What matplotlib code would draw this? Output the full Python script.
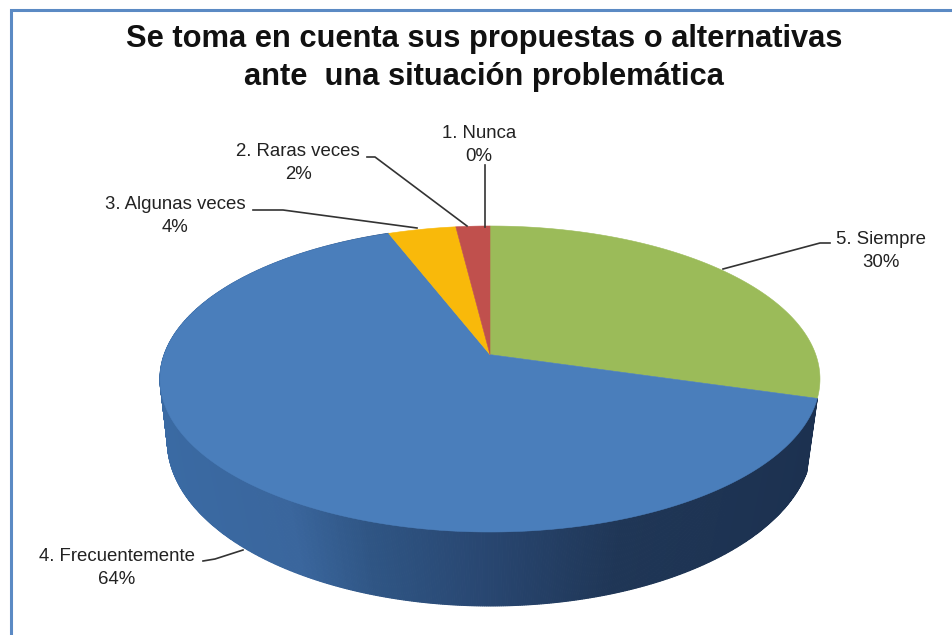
import numpy as np
import matplotlib
matplotlib.use("Agg")
import matplotlib.pyplot as plt
from matplotlib.colors import LinearSegmentedColormap

plt.rcParams['font.family'] = ['Liberation Sans', 'DejaVu Sans']

# ---- data ----
categories = ["1. Nunca", "2. Raras veces", "3. Algunas veces", "4. Frecuentemente", "5. Siempre"]
percents = [0, 2, 4, 64, 30]
title = "Se toma en cuenta sus propuestas o alternativas\nante  una situación problemática"

# ---- styles / layout ----
colors = ["#4BACC6", "#C0504D", "#F9B90A", "#4A7EBB", "#9BBB59"]
label_pos = [(479, 145), (298, 163), (175, 216), (117, 568), (881, 251)]
leaders = [
    [(485, 165), (485, 227)],
    [(367, 157), (375, 157), (467, 226)],
    [(253, 210), (283, 210), (417, 228)],
    [(203, 561), (215, 559), (243, 550)],
    [(830, 243), (820, 243), (723, 269)],
]
CX = 490
TOP = dict(a=324, b=153, d=29, c=0.1895, y0=379)   # top face perspective
BOT = dict(a=320, b=165, d=21, c=0.127, y0=441)    # bottom rim perspective


def project(theta, g):
    """Clockwise angle from 12 o'clock -> pixel position on a tilted disc."""
    u, v = np.sin(theta), np.cos(theta)
    den = 1 + g['c'] * v
    return CX + g['a'] * u / den, g['y0'] - (g['b'] * v + g['d']) / den


fig = plt.figure(figsize=(9.52, 6.35), dpi=100, facecolor="white")
ax = fig.add_axes([0, 0, 1, 1])
ax.set_xlim(0, 952)
ax.set_ylim(635, 0)
ax.axis("off")

# chart frame (top and left edges are the only ones visible)
ax.plot([11, 11, 952], [635, 9.5, 9.5], color="#5B8AC4", lw=2.2, solid_joinstyle="miter")

# clockwise from 12 o'clock, last category first
fractions = np.array(percents[::-1], dtype=float) / sum(percents)
slice_colors = colors[::-1]
edges = np.concatenate([[0], np.cumsum(fractions)]) * 2 * np.pi

# side wall of the large front slice, shaded left (lighter) to right (darker)
wall_cmap = LinearSegmentedColormap.from_list(
    "wall", [(0.0, "#3A6AA3"), (0.2, "#3A669D"), (0.32, "#2F5584"),
             (0.5, "#284670"), (0.7, "#1F3656"), (1.0, "#1C3150")])
front = int(np.argmax(fractions))
th = np.linspace(edges[front], edges[front + 1], 700)
tx, ty = project(th, TOP)
bx, by = project(th, BOT)
for i in range(len(th) - 1):
    mid = (tx[i] + bx[i]) / 2
    shade = wall_cmap(np.clip((mid - 165) / 650, 0, 1))
    ax.fill([tx[i], tx[i + 1], bx[i + 1], bx[i]], [ty[i], ty[i + 1], by[i + 1], by[i]],
            color=shade, lw=0.8, zorder=2)

# top faces
apex_y = project(np.array([0.0]), dict(TOP, a=0, b=0))[1]
for f0, f1, col, fr in zip(edges[:-1], edges[1:], slice_colors, fractions):
    if fr == 0:
        continue
    t = np.linspace(f0, f1, max(int(fr * 720), 2))
    x, y = project(t, TOP)
    ax.fill(np.r_[CX, x], np.r_[apex_y, y], color=col, lw=0.4, zorder=3)

# title
ax.text(484, 58, title, ha="center", va="center", fontsize=22.2, fontweight="bold",
        color="#111111", linespacing=1.36, zorder=5)

# data labels and leader lines
for name, pct, (lx, ly), pts in zip(categories, percents, label_pos, leaders):
    ax.text(lx, ly, f"{name}\n{pct}%", ha="center", va="center", fontsize=13.4,
            color="#222222", linespacing=1.45, zorder=5)
    xs, ys = zip(*pts)
    ax.plot(xs, ys, color="#333333", lw=1.2, zorder=4)

fig.savefig("out.png", dpi=100, facecolor="white")
